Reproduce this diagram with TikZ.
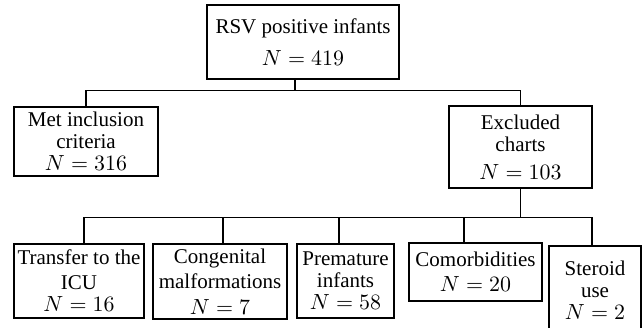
\documentclass[tikz,border=0pt]{standalone}
\usepackage{amsmath}
\usepackage{fontspec}
\setmainfont{Liberation Serif}
\usepackage{tikz}

\begin{document}
\begin{tikzpicture}[x=0.5pt,y=-0.5pt,line width=0.6pt,
  every node/.style={draw, align=center, inner xsep=1pt, inner ysep=0pt, font=\fontsize{10.5}{11}\selectfont}]
\useasboundingbox (0,0) rectangle (642,327);

\node[minimum width=96pt,minimum height=37pt] (top) at (303,42) {RSV positive infants\\[5pt] $N = 419$};
\node[minimum width=72pt,minimum height=34.5pt] (met) at (86,141.5) {Met inclusion\\ criteria\\ $N = 316$};
\node[minimum width=71.5pt,minimum height=41pt] (excl) at (520.5,147) {Excluded\\ charts\\[3pt] $N = 103$};

\node[minimum width=65pt,minimum height=37pt] (icu) at (79,281) {Transfer to the\\[1.5pt] ICU\\ $N = 16$};
\node[minimum width=67pt,minimum height=37.5pt] (cong) at (220,281.5) {Congenital\\[1.5pt] malformations\\[2pt] $N = 7$};
\node[minimum width=48.5pt,minimum height=37pt] (prem) at (345.5,281) {Premature\\ infants\\ $N = 58$};
\node[minimum width=66.5pt,minimum height=29pt] (comorb) at (475.5,272) {Comorbidities\\[1.5pt] $N = 20$};
\node[minimum width=46pt,minimum height=44pt] (steroid) at (595,290) {Steroid\\ use\\ $N = 2$};

% first split
\draw ([xshift=-4pt]top.south) -- ++(0,11) coordinate (j1);
\draw (met.north) |- (j1) -| (excl.north);

% reasons for exclusion
\draw (excl.south) -- ++(0,29) coordinate (j2);
\draw ([xshift=2.5pt]icu.north) |- (j2) -| ([xshift=-1.5pt]steroid.north);
\draw ([xshift=1.5pt]cong.north) -- ([xshift=1.5pt]cong.north |- j2);
\draw ([xshift=-3.25pt]prem.north) -- ([xshift=-3.25pt]prem.north |- j2);
\draw ([xshift=-5.75pt]comorb.north) -- ([xshift=-5.75pt]comorb.north |- j2);
\end{tikzpicture}
\end{document}
